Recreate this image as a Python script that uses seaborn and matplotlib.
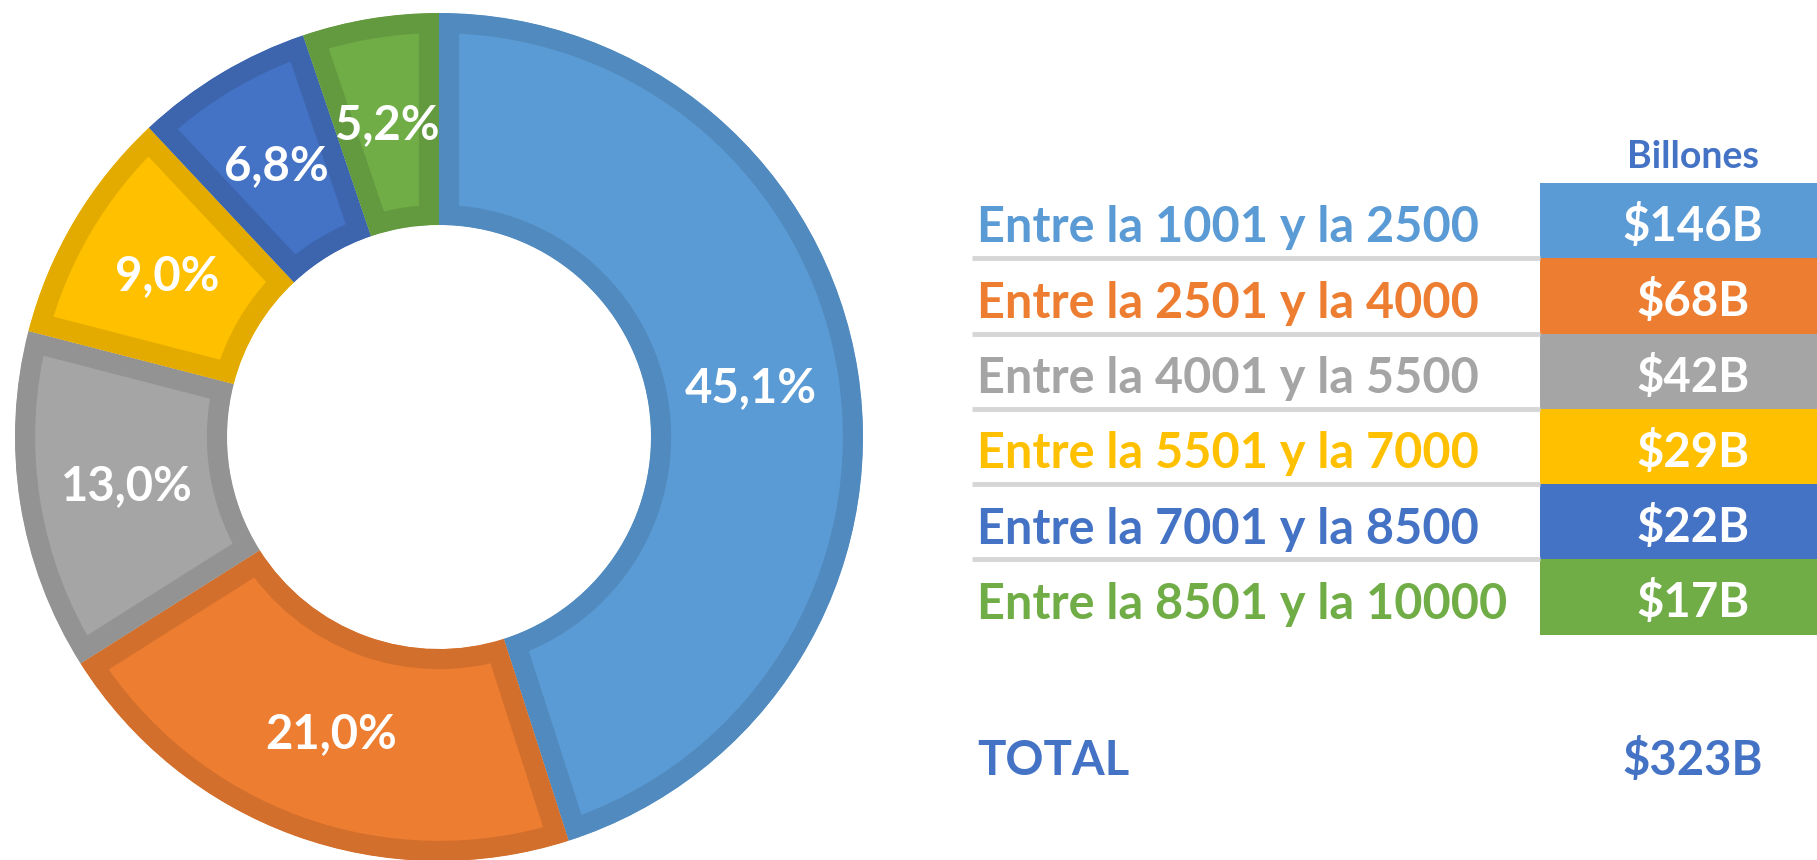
import matplotlib
matplotlib.use("Agg")
import matplotlib.pyplot as plt
import seaborn as sns
import numpy as np

# datos
rangos = ["Entre la 1001 y la 2500", "Entre la 2501 y la 4000", "Entre la 4001 y la 5500",
          "Entre la 5501 y la 7000", "Entre la 7001 y la 8500", "Entre la 8501 y la 10000"]
billones = [146, 68, 42, 29, 22, 17]
porcentajes = [45.1, 21.0, 13.0, 9.0, 6.8, 5.2]
total = 323
colores = ["#5B9BD5", "#ED7D31", "#A5A5A5", "#FFC000", "#4472C4", "#70AD47"]
azul_texto = "#4472C4"

sns.set_theme(style="white")
plt.rcParams['font.family'] = ['Lato', 'DejaVu Sans']

W, H = 1817, 860
fig = plt.figure(figsize=(W / 100, H / 100), dpi=100)

pal = sns.color_palette(colores)
bordes = [tuple(c * 0.89 for c in col) for col in pal]

##DONA
cx, cy, R = 439, 437, 424
ax = fig.add_axes([(cx - R) / W, 1 - (cy + R) / H, 2 * R / W, 2 * R / H])
wedges, _ = ax.pie(porcentajes, colors=pal, startangle=90, counterclock=False,
                   radius=1, wedgeprops=dict(width=0.5))
for w, b in zip(wedges, bordes):
    w.set_edgecolor(b)
    w.set_linewidth(29)
    w.set_clip_on(True)
    w.set_clip_path(w)  # borde solo por dentro
for w, p in zip(wedges, porcentajes):
    ang = np.deg2rad((w.theta1 + w.theta2) / 2)
    ax.text(0.745 * np.cos(ang), 0.745 * np.sin(ang), f"{p:.1f}%".replace(".", ","),
            ha="center", va="center", color="white", fontsize=34, fontweight="bold")
ax.set_xlim(-1, 1)
ax.set_ylim(-1, 1)
ax.set_aspect("equal")
ax.axis("off")

##TABLA
top, row_h, n = 183, 75.3, len(rangos)
x0 = 960
tx = fig.add_axes([x0 / W, 1 - (top + n * row_h) / H, (W - x0) / W, n * row_h / H])
tx.set_xlim(x0, W)
tx.set_ylim(n - 0.5, -0.5)
tx.axis("off")

box_left = 1540
filas = np.arange(n)
tx.barh(filas, W - box_left, left=box_left, height=1.0, color=pal, linewidth=0)
for i in range(n - 1):
    tx.plot([972, box_left], [i + 0.5, i + 0.5], color="#D6D6D6", lw=3.5, solid_capstyle="butt")

val_x = 1693
for i, (r, v, c) in enumerate(zip(rangos, billones, pal)):
    tx.text(977, i + 0.29, r, ha="left", va="baseline", color=c, fontsize=35, fontweight="bold")
    tx.text(val_x, i + 0.27, f"${v}B", ha="center", va="baseline", color="white",
            fontsize=34, fontweight="bold")

tx.text(val_x, -0.5 - (top - 168) / row_h, "Billones", ha="center", va="baseline",
        color=azul_texto, fontsize=27, fontweight="bold", clip_on=False)
y_total = n - 0.5 + (775 - (top + n * row_h)) / row_h
tx.text(977, y_total, "TOTAL", ha="left", va="baseline", color=azul_texto,
        fontsize=34, fontweight="bold", clip_on=False)
tx.text(val_x, y_total, f"${total}B", ha="center", va="baseline", color=azul_texto,
        fontsize=34, fontweight="bold", clip_on=False)

fig.savefig("out.png", dpi=100, facecolor="white")
